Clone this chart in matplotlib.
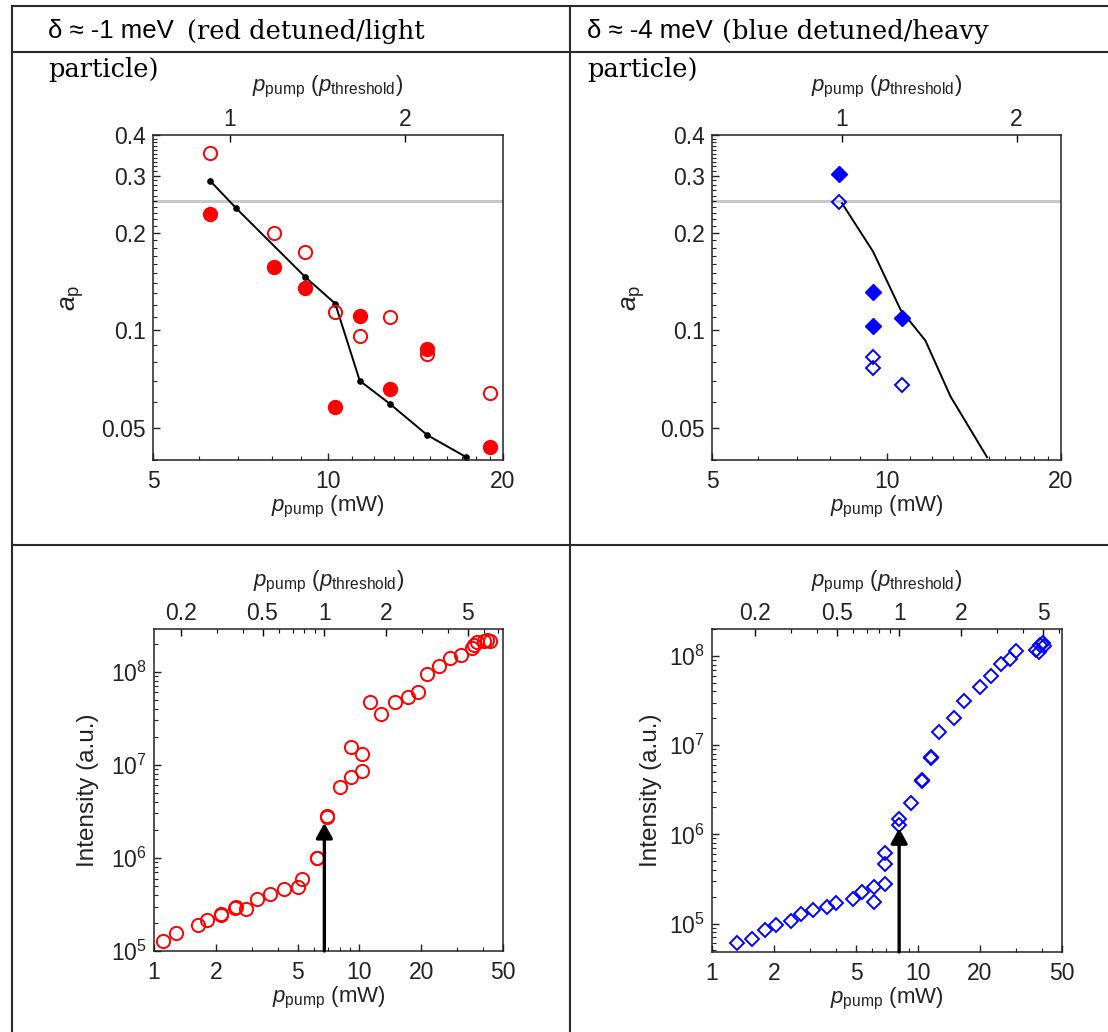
import matplotlib
matplotlib.use('Agg')
import matplotlib.pyplot as plt
from matplotlib.lines import Line2D
from matplotlib.ticker import FixedLocator, NullFormatter, FixedFormatter
import numpy as np

W, H = 1108, 1032

# valeurs lues sur la figure
# haut gauche : a_p, delta ~ -1 meV
rouge_p_ouvert = [6.26, 8.07, 9.14, 10.28, 11.34, 12.76, 14.82, 18.97]
rouge_a_ouvert = [0.351, 0.199, 0.174, 0.114, 0.0963, 0.110, 0.0847, 0.0644]
rouge_p_plein = [6.26, 8.07, 9.14, 10.29, 11.34, 12.76, 14.82, 18.97]
rouge_a_plein = [0.228, 0.157, 0.135, 0.0581, 0.111, 0.066, 0.0877, 0.0438]
rouge_p_theorie = [6.27, 6.95, 9.14, 10.29, 11.34, 12.78, 14.82, 17.3]
rouge_a_theorie = [0.289, 0.238, 0.146, 0.121, 0.070, 0.0594, 0.0476, 0.0407]

# haut droite : a_p, delta ~ -4 meV
bleu_p_plein = [8.28, 9.48, 9.48, 10.64]
bleu_a_plein = [0.303, 0.131, 0.103, 0.109]
bleu_p_ouvert = [8.28, 9.48, 9.48, 10.64]
bleu_a_ouvert = [0.249, 0.0828, 0.0766, 0.0678]
bleu_p_theorie = [8.38, 9.48, 10.57, 11.67, 12.89, 14.91]
bleu_a_theorie = [0.2465, 0.175, 0.116, 0.0931, 0.0627, 0.0407]

# bas : intensite en fonction de la puissance
rouge_p_int = [1.10, 1.28, 1.63, 1.82, 2.11, 2.13, 2.47, 2.50, 2.82, 3.16,
               3.67, 4.27, 5.03, 5.28, 6.21, 6.25, 6.92, 6.95, 8.07, 9.10,
               9.10, 10.3, 10.3, 11.3, 12.8, 14.96, 17.3, 19.2, 21.3, 24.3,
               27.5, 31.2, 35.2, 36.1, 37.3, 40.6, 41.7, 43.3]
rouge_i = [1.28e5, 1.55e5, 1.92e5, 2.13e5, 2.45e5, 2.5e5, 2.89e5, 2.95e5, 2.85e5, 3.64e5,
           4.05e5, 4.58e5, 4.85e5, 6.0e5, 9.85e5, 1.0e6, 2.75e6, 2.8e6, 5.77e6, 7.39e6,
           1.56e7, 8.49e6, 1.32e7, 4.73e7, 3.49e7, 4.73e7, 5.36e7, 6.0e7, 9.4e7, 1.15e8,
           1.39e8, 1.51e8, 1.78e8, 1.93e8, 2.07e8, 2.15e8, 2.17e8, 2.15e8]
bleu_p_int = [1.32, 1.56, 1.81, 2.04, 2.43, 2.70, 3.10, 3.61, 3.98, 4.82,
              5.32, 6.10, 6.10, 6.95, 6.95, 6.95, 8.06, 8.06, 9.29, 10.4,
              10.45, 11.5, 11.55, 12.6, 14.9, 16.8, 20.1, 22.7, 25.2, 28.1,
              30.0, 37.5, 38.6, 38.9, 40.4, 41.1]
bleu_i = [6.1e4, 6.76e4, 8.45e4, 9.6e4, 1.07e5, 1.28e5, 1.42e5, 1.54e5, 1.68e5, 1.87e5,
          2.28e5, 1.73e5, 2.55e5, 2.75e5, 4.65e5, 6.12e5, 1.27e6, 1.47e6, 2.23e6, 4.0e6,
          4.1e6, 7.2e6, 7.4e6, 1.39e7, 2.0e7, 3.13e7, 4.53e7, 6.0e7, 8.07e7, 9.25e7,
          1.14e8, 1.17e8, 1.1e8, 1.33e8, 1.39e8, 1.3e8]

# puissance de seuil (mW) pour chaque panneau
seuil_hg, seuil_hd, seuil_bg, seuil_bd = 6.78, 8.38, 6.75, 8.1
a_limite = 0.25
fleche_rouge = 2.37e6
fleche_bleue = 1.17e6

entetes = [('δ ≈ -1 meV', '(red detuned/light'), ('δ ≈ -4 meV', '(blue detuned/heavy')]

plt.rcParams['font.family'] = ['Liberation Sans', 'DejaVu Sans']
plt.rcParams['mathtext.fontset'] = 'custom'
plt.rcParams['mathtext.rm'] = 'Liberation Sans'
plt.rcParams['mathtext.it'] = 'Liberation Sans:italic'
plt.rcParams['mathtext.default'] = 'regular'

ROUGE = '#ff0000'
BLEU = '#0000ff'
TXT = '#222222'
TAILLE = 16.5
lab_x = r'$\it{p}_{\rm{pump}}$ (mW)'
lab_top = r'$\it{p}_{\rm{pump}}$ ($\it{p}_{\rm{threshold}}$)'

fig = plt.figure(figsize=(W / 100, H / 100), dpi=100)


def axes_px(g, d, h, b):
    return fig.add_axes([g / W, 1 - b / H, (d - g) / W, (b - h) / H])


def style(ax, seuil, top_maj, top_min, ylab, ylab_x, ylab_size):
    for sp in ax.spines.values():
        sp.set_linewidth(1.1)
        sp.set_color('#222222')
    ax.tick_params(which='both', direction='in', top=False, right=False,
                   labelsize=TAILLE, labelcolor=TXT, colors='#222222')
    ax.tick_params(which='major', length=5, width=1, pad=7)
    ax.tick_params(axis='y', which='major', pad=5)
    ax.tick_params(which='minor', length=3, width=0.8)
    sec = ax.secondary_xaxis('top', functions=(lambda x, s=seuil: x / s,
                                               lambda x, s=seuil: x * s))
    sec.xaxis.set_major_locator(FixedLocator(top_maj))
    sec.xaxis.set_major_formatter(FixedFormatter(['%g' % v for v in top_maj]))
    sec.xaxis.set_minor_locator(FixedLocator(top_min))
    sec.xaxis.set_minor_formatter(NullFormatter())
    sec.tick_params(which='both', direction='in', labelsize=TAILLE, labelcolor=TXT)
    sec.tick_params(which='major', length=5, width=1, pad=3)
    sec.tick_params(which='minor', length=3, width=0.8)
    sec.spines['top'].set_visible(False)
    ax.text(0.5, -0.145, lab_x, transform=ax.transAxes, ha='center', va='center',
            fontsize=16, color=TXT)
    ax.text(ylab_x, 0.5, ylab, transform=ax.transAxes, ha='center', va='center',
            rotation=90, fontsize=ylab_size, color=TXT)
    return sec


# ---- haut gauche
ax1 = axes_px(153, 503, 135, 460)
ax1.set_xscale('log')
ax1.set_yscale('log')
ax1.set_xlim(5, 20)
ax1.set_ylim(0.0399, 0.4)
ax1.axhline(a_limite, color='#c8c8c8', lw=2.2, zorder=1)
ax1.plot(rouge_p_theorie, rouge_a_theorie, '-', color='black', lw=1.4, zorder=2)
ax1.plot(rouge_p_theorie, rouge_a_theorie, 'o', color='black', ms=3.8, zorder=2)
ax1.plot(rouge_p_ouvert, rouge_a_ouvert, 'o', mfc='none', mec=ROUGE, mew=1.4, ms=9.5,
         zorder=3, clip_on=False)
ax1.plot(rouge_p_plein, rouge_a_plein, 'o', mfc=ROUGE, mec=ROUGE, ms=10, zorder=3,
         clip_on=False)

# ---- haut droite
ax2 = axes_px(712, 1061, 135, 460)
ax2.set_xscale('log')
ax2.set_yscale('log')
ax2.set_xlim(5, 20)
ax2.set_ylim(0.0399, 0.4)
ax2.axhline(a_limite, color='#c8c8c8', lw=2.2, zorder=1)
ax2.plot(bleu_p_theorie, bleu_a_theorie, '-', color='black', lw=1.4, zorder=2)
ax2.plot(bleu_p_plein, bleu_a_plein, 'D', mfc=BLEU, mec=BLEU, ms=8, zorder=3)
ax2.plot(bleu_p_ouvert, bleu_a_ouvert, 'D', mfc='none', mec=BLEU, mew=1.4, ms=7.5, zorder=3)

for ax, s in ((ax1, seuil_hg), (ax2, seuil_hd)):
    ax.xaxis.set_major_locator(FixedLocator([5, 10, 20]))
    ax.xaxis.set_major_formatter(FixedFormatter(['5', '10', '20']))
    ax.xaxis.set_minor_locator(FixedLocator([6, 7, 8, 9] + list(range(11, 20))))
    ax.xaxis.set_minor_formatter(NullFormatter())
    ax.yaxis.set_major_locator(FixedLocator([0.05, 0.1, 0.2, 0.3, 0.4]))
    ax.yaxis.set_major_formatter(FixedFormatter(['0.05', '0.1', '0.2', '0.3', '0.4']))
    ax.yaxis.set_minor_locator(FixedLocator(np.arange(0.04, 0.4, 0.01)))
    ax.yaxis.set_minor_formatter(NullFormatter())
    style(ax, s, [1, 2], [], r'$\it{a}_{\rm{p}}$', -0.23 if ax is ax1 else -0.225, 19)

# ---- bas
ax3 = axes_px(154, 503, 629, 951)
ax3.set_xscale('log')
ax3.set_yscale('log')
ax3.set_xlim(1, 50)
ax3.set_ylim(1e5, 2.87e8)
ax3.plot(rouge_p_int, rouge_i, 'o', mfc='none', mec=ROUGE, mew=1.4, ms=9.5,
         zorder=3, clip_on=False)
ax3.annotate('', xy=(seuil_bg, fleche_rouge), xytext=(seuil_bg, 1e5),
             arrowprops=dict(arrowstyle='-|>,head_length=0.45,head_width=0.25',
                             color='black', lw=2.4, mutation_scale=20,
                             shrinkA=0, shrinkB=0), zorder=4)

ax4 = axes_px(712, 1062, 629, 952)
ax4.set_xscale('log')
ax4.set_yscale('log')
ax4.set_xlim(1, 50)
ax4.set_ylim(4.8e4, 2.0e8)
ax4.plot(bleu_p_int, bleu_i, 'D', mfc='none', mec=BLEU, mew=1.4, ms=7.5, zorder=3)
ax4.annotate('', xy=(seuil_bd, fleche_bleue), xytext=(seuil_bd, 4.8e4),
             arrowprops=dict(arrowstyle='-|>,head_length=0.45,head_width=0.25',
                             color='black', lw=2.4, mutation_scale=20,
                             shrinkA=0, shrinkB=0), zorder=4)

for ax, s in ((ax3, seuil_bg), (ax4, seuil_bd)):
    ax.xaxis.set_major_locator(FixedLocator([1, 2, 5, 10, 20, 50]))
    ax.xaxis.set_major_formatter(FixedFormatter(['1', '2', '5', '10', '20', '50']))
    ax.xaxis.set_minor_locator(FixedLocator([3, 4, 6, 7, 8, 9, 30, 40]))
    ax.xaxis.set_minor_formatter(NullFormatter())
    style(ax, s, [0.2, 0.5, 1, 2, 5], [0.3, 0.4, 0.6, 0.7, 0.8, 0.9, 3, 4, 6, 7],
          'Intensity (a.u.)', -0.19 if ax is ax3 else -0.175, 17.5)

# titres des axes du haut
for ax, y in ((ax1, 87), (ax2, 87), (ax3, 582), (ax4, 582)):
    bb = ax.get_position()
    fig.text((bb.x0 + bb.x1) / 2, 1 - y / H, lab_top, ha='center', va='center',
             fontsize=16, color=TXT)

# tableau
lc = '#2a2a2a'
for (x0, y0, x1, y1) in [(12, 6, 1108, 6), (12, 52, 1108, 52), (12, 545, 1108, 545),
                         (12, 6, 12, 1032), (570, 6, 570, 1032)]:
    fig.add_artist(Line2D([x0 / W, x1 / W], [1 - y0 / H, 1 - y1 / H],
                          transform=fig.transFigure, color=lc, lw=1.5))

for (sans, serif), x0, x1 in zip(entetes, (48, 587), (187, 722)):
    fig.text(x0 / W, 1 - 31 / H, sans, family=['Liberation Sans', 'DejaVu Sans'],
             fontsize=18.5, va='center', color='black')
    fig.text(x1 / W, 1 - 31 / H, serif, family='DejaVu Serif', fontsize=18.5,
             va='center', color='black')
    fig.text(x0 / W, 1 - 70 / H, 'particle)', family='DejaVu Serif', fontsize=18.5,
             va='center', color='black')

fig.savefig('out.png', dpi=100)
